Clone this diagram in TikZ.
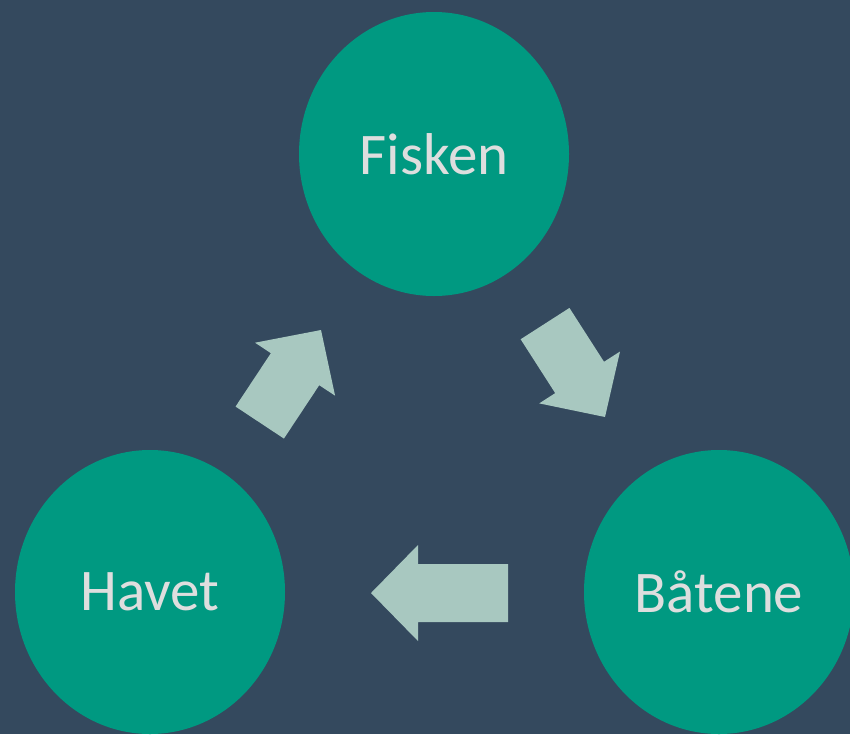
\documentclass[tikz,border=0pt]{standalone}
\usepackage{fontspec}
\setmainfont{Carlito}
\usetikzlibrary{shapes.geometric}
\definecolor{bgc}{RGB}{52,73,94}
\definecolor{teal2}{RGB}{0,153,129}
\definecolor{arrc}{RGB}{168,200,192}
\definecolor{txtc}{RGB}{222,222,222}
\tikzset{
  blob/.style={ellipse, fill=teal2, draw=none, minimum width=270pt, minimum height=284pt, inner sep=0pt,
    text=txtc, font=\fontsize{59}{59}\selectfont},
  blockarrow/.style={fill=arrc, draw=none}
}
\newcommand{\blockarr}[4]{% tip x, tip y, angle, length
  \begin{scope}[shift={(#1,#2)}, rotate=#3]
    \fill[blockarrow] (0,0) -- (-47,48) -- (-47,29) -- (-#4,29) -- (-#4,-29) -- (-47,-29) -- (-47,-48) -- cycle;
  \end{scope}}
\begin{document}
\begin{tikzpicture}[x=1pt,y=-1pt]
\useasboundingbox (0,0) rectangle (850,734);
\fill[bgc] (0,0) rectangle (850,734);
\clip (0,0) rectangle (850,734);
\node[blob] (fisken) at (434,154) {Fisken};
\node[blob] (havet) at (150,592) {Havet};
\node[blob] (baatene) at (719,592) {Båtene};
\blockarr{321}{330}{56.5}{111}
\blockarr{605}{417}{-57.3}{111}
\blockarr{371}{593}{180}{137}
\end{tikzpicture}
\end{document}
